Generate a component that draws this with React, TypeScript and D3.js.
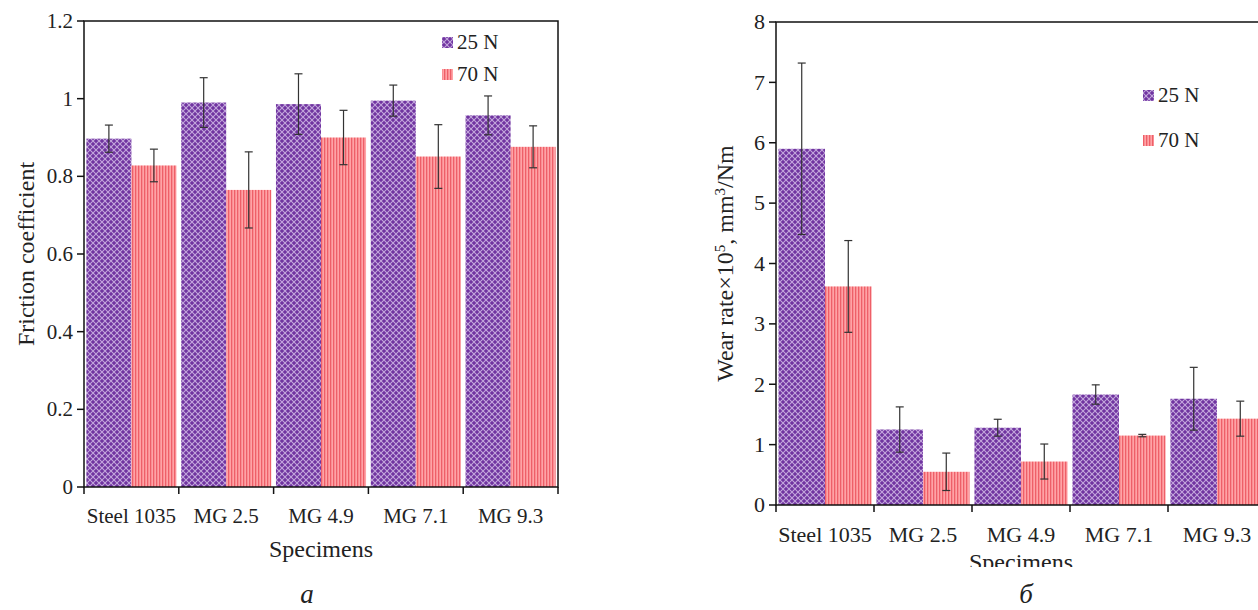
import React from "react";
import * as d3 from "d3";

const categories = ["Steel 1035", "MG 2.5", "MG 4.9", "MG 7.1", "MG 9.3"];
const seriesNames = ["25 N", "70 N"];

// Friction coefficient (mean, spread)
const friction25 = [0.897, 0.99, 0.986, 0.995, 0.957];
const friction25Err = [0.035, 0.064, 0.078, 0.04, 0.05];
const friction70 = [0.828, 0.765, 0.9, 0.851, 0.876];
const friction70Err = [0.042, 0.098, 0.07, 0.082, 0.054];

// Wear rate ×10^5, mm^3/Nm (mean, spread)
const wear25 = [5.9, 1.25, 1.28, 1.83, 1.76];
const wear25Err = [1.42, 0.375, 0.14, 0.16, 0.52];
const wear70 = [3.62, 0.55, 0.72, 1.15, 1.43];
const wear70Err = [0.76, 0.31, 0.29, 0.02, 0.29];

const frictionTicks = [0, 0.2, 0.4, 0.6, 0.8, 1, 1.2];
const wearTicks = [0, 1, 2, 3, 4, 5, 6, 7, 8];

const FONT = "'Liberation Serif', 'Times New Roman', serif";

type PanelProps = {
  x0: number;
  x1: number;
  yTop: number;
  yBottom: number;
  yMax: number;
  ticks: number[];
  tickFormat: (v: number) => string;
  a: number[];
  aErr: number[];
  b: number[];
  bErr: number[];
  tickFont: number;
  catLabelY: number;
  titleY: number;
  yTitleX: number;
  yTitle: React.ReactNode;
  legendX: number;
  legendY: number[];
  clipId: string;
  clipBottom: number;
};

function Panel(p: PanelProps) {
  const x = d3
    .scaleBand<string>()
    .domain(categories)
    .range([p.x0, p.x1])
    .paddingInner(0.05)
    .paddingOuter(0.025);
  const sub = d3.scaleBand<string>().domain(seriesNames).range([0, x.bandwidth()]).padding(0);
  const y = d3.scaleLinear().domain([0, p.yMax]).range([p.yBottom, p.yTop]);
  const step = x.step();
  const fills = ["url(#pat25)", "url(#pat70)"];
  const vals = [p.a, p.b];
  const errs = [p.aErr, p.bErr];
  const yMid = (p.yTop + p.yBottom) / 2;

  return (
    <g clipPath={`url(#${p.clipId})`}>
      <clipPath id={p.clipId}>
        <rect x={0} y={0} width={1258} height={p.clipBottom} />
      </clipPath>
      {/* bars */}
      {categories.map((c, i) =>
        seriesNames.map((s, k) => (
          <rect
            key={c + s}
            x={(x(c) as number) + (sub(s) as number)}
            y={y(vals[k][i])}
            width={sub.bandwidth()}
            height={p.yBottom - y(vals[k][i])}
            fill={fills[k]}
          />
        ))
      )}
      {/* error bars */}
      {categories.map((c, i) =>
        seriesNames.map((s, k) => {
          const cx = (x(c) as number) + (sub(s) as number) + sub.bandwidth() / 2;
          const hi = y(vals[k][i] + errs[k][i]);
          const lo = y(vals[k][i] - errs[k][i]);
          return (
            <g key={"e" + c + s} stroke="#333" strokeWidth={1.2}>
              <line x1={cx} x2={cx} y1={hi} y2={lo} />
              <line x1={cx - 4} x2={cx + 4} y1={hi} y2={hi} />
              <line x1={cx - 4} x2={cx + 4} y1={lo} y2={lo} />
            </g>
          );
        })
      )}
      {/* frame */}
      <rect
        x={p.x0}
        y={p.yTop}
        width={p.x1 - p.x0}
        height={p.yBottom - p.yTop}
        fill="none"
        stroke="#111"
        strokeWidth={1.5}
      />
      {/* y ticks */}
      {p.ticks.map((t) => (
        <g key={"yt" + t}>
          <line x1={p.x0 - 7} x2={p.x0} y1={y(t)} y2={y(t)} stroke="#111" strokeWidth={1.5} />
          <text
            x={p.x0 - 11}
            y={y(t)}
            dy="0.33em"
            textAnchor="end"
            fontFamily={FONT}
            fontSize={p.tickFont}
            fill="#222"
          >
            {p.tickFormat(t)}
          </text>
        </g>
      ))}
      {/* x ticks at category boundaries */}
      {d3.range(categories.length + 1).map((i) => (
        <line
          key={"xt" + i}
          x1={p.x0 + i * step}
          x2={p.x0 + i * step}
          y1={p.yBottom}
          y2={p.yBottom + 7}
          stroke="#111"
          strokeWidth={1.5}
        />
      ))}
      {categories.map((c) => (
        <text
          key={"xl" + c}
          x={(x(c) as number) + x.bandwidth() / 2}
          y={p.catLabelY}
          textAnchor="middle"
          fontFamily={FONT}
          fontSize={p.tickFont}
          fill="#222"
        >
          {c}
        </text>
      ))}
      <text
        x={(p.x0 + p.x1) / 2}
        y={p.titleY}
        textAnchor="middle"
        fontFamily={FONT}
        fontSize={24}
        fill="#222"
      >
        Specimens
      </text>
      <text
        transform={`translate(${p.yTitleX},${yMid}) rotate(-90)`}
        textAnchor="middle"
        fontFamily={FONT}
        fontSize={24}
        fill="#222"
      >
        {p.yTitle}
      </text>
      {/* legend */}
      {seriesNames.map((s, k) => (
        <g key={"lg" + s}>
          <rect x={p.legendX} y={p.legendY[k] - 12} width={11} height={11} fill={fills[k]} />
          <text
            x={p.legendX + 15}
            y={p.legendY[k]}
            fontFamily={FONT}
            fontSize={21}
            fill="#222"
          >
            {s}
          </text>
        </g>
      ))}
    </g>
  );
}

export default function App() {
  return (
    <svg
      width={1258}
      height={610}
      style={{ position: "absolute", left: 0, top: 0, background: "#fff" }}
    >
      <defs>
        <pattern id="pat25" patternUnits="userSpaceOnUse" width={6} height={6}>
          <rect width={6} height={6} fill="#7034a0" />
          <path d="M0,0 L6,6 M6,0 L0,6" stroke="#c3a6dc" strokeWidth={1.1} />
        </pattern>
        <pattern id="pat70" patternUnits="userSpaceOnUse" width={3} height={6}>
          <rect width={3} height={6} fill="#ffa3a6" />
          <rect width={1.3} height={6} fill="#ee5f68" />
        </pattern>
      </defs>
      <rect width={1258} height={610} fill="#fff" />
      <Panel
        x0={84}
        x1={558}
        yTop={21}
        yBottom={487}
        yMax={1.2}
        ticks={frictionTicks}
        tickFormat={(v) => (v === 0 || v === 1 ? String(v) : d3.format(".1f")(v))}
        a={friction25}
        aErr={friction25Err}
        b={friction70}
        bErr={friction70Err}
        tickFont={21}
        catLabelY={523}
        titleY={557}
        yTitleX={34}
        yTitle="Friction coefficient"
        legendX={442}
        legendY={[49, 81]}
        clipId="clipA"
        clipBottom={610}
      />
      <Panel
        x0={776}
        x1={1266}
        yTop={22}
        yBottom={505}
        yMax={8}
        ticks={wearTicks}
        tickFormat={(v) => String(v)}
        a={wear25}
        aErr={wear25Err}
        b={wear70}
        bErr={wear70Err}
        tickFont={22}
        catLabelY={542}
        titleY={570}
        yTitleX={733}
        yTitle={
          <>
            Wear rate×10
            <tspan dy="-8" fontSize={15}>5</tspan>
            <tspan dy="8">, mm</tspan>
            <tspan dy="-8" fontSize={15}>3</tspan>
            <tspan dy="8">/Nm</tspan>
          </>
        }
        legendX={1143}
        legendY={[102, 147]}
        clipId="clipB"
        clipBottom={567}
      />
      <text x={307} y={603} textAnchor="middle" fontFamily={FONT} fontStyle="italic" fontSize={27} fill="#222">
        а
      </text>
      <text x={1026} y={603} textAnchor="middle" fontFamily={FONT} fontStyle="italic" fontSize={27} fill="#222">
        б
      </text>
    </svg>
  );
}
